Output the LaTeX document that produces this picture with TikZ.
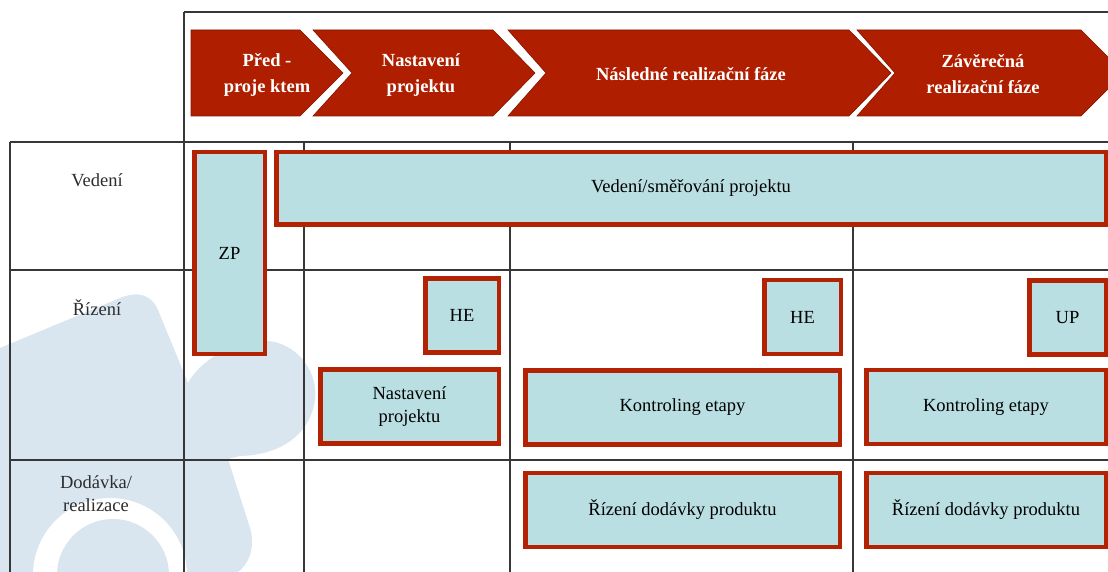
\documentclass[tikz,border=0pt]{standalone}
\usepackage{fontspec}
\setmainfont{Liberation Serif}
\usepackage{tikz}
\usetikzlibrary{positioning}
\definecolor{phasered}{RGB}{176,30,0}
\definecolor{taskred}{RGB}{180,34,4}
\definecolor{taskfill}{RGB}{186,223,227}
\definecolor{gridgrey}{RGB}{55,55,55}
\definecolor{markblue}{RGB}{217,229,239}
\definecolor{labelgrey}{RGB}{45,45,45}
\tikzset{x=1pt, y=-1pt, font=\fontsize{18.5}{23}\selectfont}
\tikzstyle{phase} = [fill=phasered, draw=phasered!75!black, line width=0.6pt]
\tikzstyle{phaselabel} = [text=white, font=\fontsize{18.5}{26}\selectfont\bfseries, align=center]
\tikzstyle{task} = [draw=taskred, fill=taskfill, line width=4.5pt, align=center, inner sep=0pt, minimum height=74pt]
\tikzstyle{rowlabel} = [text=labelgrey, align=center]
\tikzstyle{grid} = [draw=gridgrey, line width=1.6pt]
\tikzstyle{logo} = [fill=markblue]

\begin{document}
\begin{tikzpicture}
    \useasboundingbox (0,0) rectangle (1108,572);
    \clip (0,0) rectangle (1108,572);

    % watermark in the background
    \path [logo] (0,572) -- (0,348) -- (120,298) .. controls (140,290) and (152,296) .. (158,310)
        -- (188,383) .. controls (200,360) and (240,335) .. (275,342)
        .. controls (305,350) and (320,380) .. (314,405)
        .. controls (308,435) and (280,455) .. (240,456) -- (228,459)
        -- (250,528) .. controls (256,548) and (248,565) .. (238,572) -- cycle;
    \fill [white] (110,575) circle (77);
    \path [logo] (113,575) circle (56);

    % phases
    \path [phase] (191,30) -- (300,30) -- (343,73) -- (300,116) -- (191,116) -- cycle;
    \path [phase] (313,30) -- (493,30) -- (535,73) -- (493,116) -- (313,116) -- (352,73) -- cycle;
    \path [phase] (508,30) -- (849,30) -- (891,73) -- (849,116) -- (508,116) -- (546,73) -- cycle;
    \path [phase] (857,30) -- (1081,30) -- (1124,73) -- (1081,116) -- (857,116) -- (895,73) -- cycle;
    \node [phaselabel] (pre) at (267,75) {Před -\\proje ktem};
    \node [phaselabel] (setup) at (421,75) {Nastavení\\projektu};
    \node [phaselabel] (next) at (691,74) {Následné realizační fáze};
    \node [phaselabel] (final) at (983,74) {Závěrečná\\realizační fáze};

    % table
    \draw [grid] (184,12) -- (1108,12);
    \draw [grid] (184,12) -- (184,572);
    \draw [grid] (10,142) -- (1108,142);
    \draw [grid] (10,142) -- (10,572);
    \draw [grid] (10,270) -- (1108,270);
    \draw [grid] (10,460) -- (1108,460);
    \draw [grid] (304,142) -- (304,572);
    \draw [grid] (510,142) -- (510,572);
    \draw [grid] (853,142) -- (853,572);

    \node [rowlabel] (lead) at (97,180) {Vedení};
    \node [rowlabel] (ctrl) at (97,308) {Řízení};
    \node [rowlabel] (deliv) at (96,494) {Dodávka/\\realizace};

    % tasks
    \node [task, minimum width=70.5pt, minimum height=201.5pt] (zp) at (229.5,253) {ZP};
    \node [task, minimum width=829.5pt, minimum height=72.5pt] (direct) at (691,188.5) {Vedení/směřování projektu};
    \node [task, minimum width=73.5pt] (he1) at (462,315.5) {HE};
    \node [task, minimum width=76.5pt] (he2) at (802.5,317) {HE};
    \node [task, minimum width=76.5pt] (up) at (1067.5,317.5) {UP};
    \node [task, minimum width=178.5pt] (setupbox) at (409.5,406.5) {Nastavení\\projektu};
    \node [task, minimum width=314.5pt] (stage1) at (682.5,407.5) {Kontroling etapy};
    \node [task, minimum width=239.5pt] (stage2) at (986,407) {Kontroling etapy};
    \node [task, minimum width=314.5pt] (prod1) at (682.5,510) {Řízení dodávky produktu};
    \node [task, minimum width=239.5pt] (prod2) at (986,510) {Řízení dodávky produktu};
\end{tikzpicture}
\end{document}
